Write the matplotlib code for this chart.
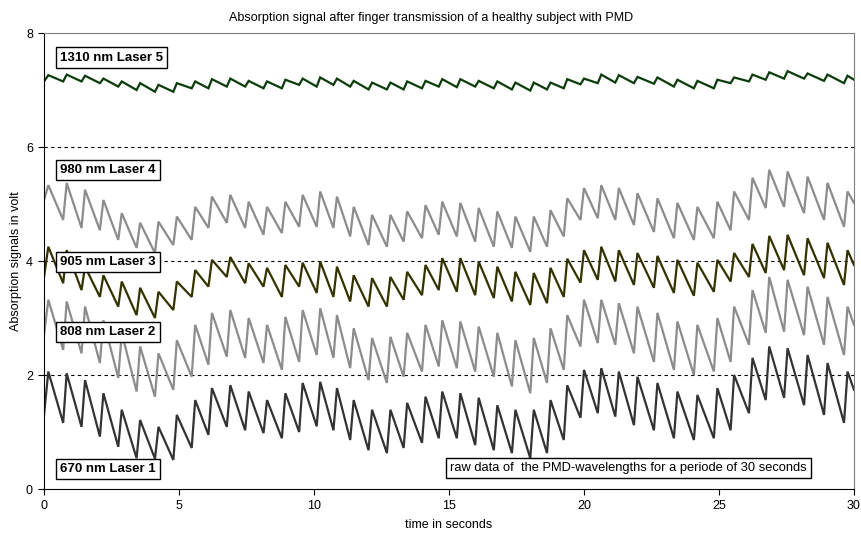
import matplotlib
matplotlib.use("Agg")
import matplotlib.pyplot as plt

plt.rcParams['font.family'] = ['Liberation Sans', 'DejaVu Sans']

# ---------------- data ----------------
beat_times = [0.16, 0.84, 1.52, 2.20, 2.88, 3.56, 4.24, 4.92, 5.60, 6.22,
              6.90, 7.58, 8.26, 8.94, 9.58, 10.23, 10.85, 11.47, 12.15, 12.83,
              13.45, 14.13, 14.75, 15.42, 16.10, 16.79, 17.46, 18.14, 18.76, 19.38,
              20.00, 20.64, 21.29, 21.98, 22.72, 23.46, 24.20, 24.94, 25.56, 26.24,
              26.86, 27.54, 28.28, 29.02, 29.76]

labels = ["1310 nm Laser 5", "980 nm Laser 4", "905 nm Laser 3",
          "808 nm Laser 2", "670 nm Laser 1"]

start_values = [7.15, 5.07, 3.72, 2.70, 1.30]
end_time = 30.0

laser5_peaks = [7.26, 7.27, 7.25, 7.20, 7.15, 7.12, 7.09, 7.12, 7.15, 7.19, 7.20, 7.16, 7.15, 7.18, 7.20,
                7.22, 7.20, 7.16, 7.13, 7.13, 7.15, 7.16, 7.19, 7.19, 7.16, 7.15, 7.13, 7.13, 7.13, 7.19,
                7.20, 7.27, 7.26, 7.23, 7.22, 7.18, 7.16, 7.18, 7.22, 7.27, 7.31, 7.33, 7.29, 7.27, 7.25]
laser5_troughs = [7.15, 7.15, 7.12, 7.06, 7.00, 6.97, 6.97, 7.03, 7.03, 7.06, 7.06, 7.03, 7.03, 7.09, 7.06,
                  7.09, 7.06, 7.01, 7.01, 7.01, 7.03, 7.06, 7.05, 7.06, 7.03, 7.01, 6.99, 7.01, 7.03, 7.10,
                  7.12, 7.13, 7.12, 7.11, 7.06, 7.03, 7.03, 7.12, 7.15, 7.18, 7.20, 7.20, 7.16, 7.12, 7.18]

laser4_peaks = [5.33, 5.37, 5.25, 5.07, 4.84, 4.67, 4.69, 4.78, 4.95, 5.13, 5.16, 5.04, 4.95, 5.04, 5.16,
                5.22, 5.13, 4.95, 4.81, 4.81, 4.87, 4.98, 5.04, 5.02, 4.93, 4.87, 4.78, 4.78, 4.89, 5.10,
                5.28, 5.33, 5.28, 5.19, 5.10, 5.02, 4.95, 5.04, 5.22, 5.46, 5.60, 5.57, 5.48, 5.37, 5.22]
laser4_troughs = [4.72, 4.58, 4.54, 4.37, 4.23, 4.14, 4.28, 4.37, 4.58, 4.67, 4.58, 4.46, 4.49, 4.60, 4.60,
                  4.58, 4.43, 4.28, 4.25, 4.34, 4.40, 4.46, 4.43, 4.34, 4.25, 4.23, 4.16, 4.25, 4.43, 4.72,
                  4.75, 4.72, 4.63, 4.51, 4.40, 4.37, 4.40, 4.54, 4.72, 4.93, 4.95, 4.84, 4.72, 4.60, 5.02]

laser3_peaks = [4.25, 4.19, 3.90, 3.75, 3.64, 3.53, 3.46, 3.64, 3.84, 4.02, 4.07, 3.96, 3.88, 3.93, 3.97,
                3.99, 3.90, 3.75, 3.70, 3.72, 3.81, 3.93, 4.05, 4.05, 3.99, 3.90, 3.81, 3.79, 3.88, 4.04,
                4.19, 4.25, 4.19, 4.14, 4.09, 4.02, 3.97, 4.02, 4.14, 4.30, 4.44, 4.46, 4.40, 4.32, 4.19]
laser3_troughs = [3.61, 3.49, 3.37, 3.20, 3.05, 3.00, 3.14, 3.37, 3.55, 3.72, 3.61, 3.55, 3.37, 3.55, 3.44,
                  3.37, 3.29, 3.20, 3.20, 3.32, 3.40, 3.49, 3.46, 3.40, 3.35, 3.29, 3.23, 3.26, 3.37, 3.62,
                  3.67, 3.64, 3.58, 3.53, 3.44, 3.39, 3.46, 3.64, 3.72, 3.79, 3.84, 3.75, 3.70, 3.58, 3.93]

laser2_peaks = [3.32, 3.29, 3.20, 2.96, 2.74, 2.50, 2.38, 2.61, 2.88, 3.09, 3.14, 3.00, 2.88, 3.02, 3.14,
                3.17, 3.05, 2.82, 2.65, 2.67, 2.74, 2.88, 2.96, 2.94, 2.85, 2.74, 2.61, 2.65, 2.82, 3.05,
                3.32, 3.32, 3.26, 3.20, 3.09, 2.94, 2.88, 3.00, 3.20, 3.49, 3.72, 3.67, 3.55, 3.37, 3.20]
laser2_troughs = [2.44, 2.38, 2.21, 1.95, 1.71, 1.62, 1.74, 1.97, 2.18, 2.32, 2.30, 2.21, 2.09, 2.23, 2.35,
                  2.30, 2.12, 1.91, 1.86, 1.97, 2.06, 2.15, 2.12, 2.06, 1.97, 1.80, 1.68, 1.86, 2.09, 2.50,
                  2.56, 2.53, 2.38, 2.23, 2.09, 2.00, 2.06, 2.23, 2.53, 2.74, 2.76, 2.70, 2.53, 2.35, 2.88]

laser1_peaks = [2.06, 2.03, 1.91, 1.68, 1.39, 1.21, 1.09, 1.30, 1.56, 1.77, 1.82, 1.71, 1.56, 1.68, 1.86,
                1.88, 1.77, 1.56, 1.39, 1.39, 1.51, 1.62, 1.71, 1.68, 1.60, 1.47, 1.39, 1.39, 1.56, 1.82,
                2.09, 2.12, 2.06, 1.97, 1.86, 1.71, 1.65, 1.77, 2.00, 2.30, 2.50, 2.47, 2.35, 2.21, 2.06]
laser1_troughs = [1.16, 1.09, 0.92, 0.74, 0.54, 0.53, 0.51, 0.72, 0.95, 1.09, 1.03, 0.98, 0.89, 1.00, 1.10,
                  1.03, 0.86, 0.68, 0.63, 0.72, 0.81, 0.89, 0.89, 0.77, 0.68, 0.63, 0.54, 0.63, 0.86, 1.25,
                  1.33, 1.27, 1.12, 1.03, 0.89, 0.86, 0.89, 1.03, 1.33, 1.56, 1.60, 1.47, 1.30, 1.16, 1.74]

all_peaks = [laser5_peaks, laser4_peaks, laser3_peaks, laser2_peaks, laser1_peaks]
all_troughs = [laser5_troughs, laser4_troughs, laser3_troughs, laser2_troughs, laser1_troughs]
label_y = [7.57, 5.60, 3.98, 2.75, 0.35]

# ---------------- style ----------------
colors = ["#0a3d0a", "#8c8c8c", "#333300", "#8c8c8c", "#333333"]
rise = 0.13  # seconds from trough to systolic peak


def build_trace(start, peaks, troughs):
    xs, ys = [0.0], [start]
    n = len(beat_times)
    for i in range(n):
        xs.append(beat_times[i]); ys.append(peaks[i])
        nxt = beat_times[i + 1] - rise if i < n - 1 else end_time
        xs.append(nxt); ys.append(troughs[i])
    return xs, ys


fig = plt.figure(figsize=(8.62, 5.35), dpi=100)
ax = fig.add_axes([44 / 862, 46 / 535, 810 / 862, 456 / 535])

for start, pk, tr, c in zip(start_values, all_peaks, all_troughs, colors):
    xs, ys = build_trace(start, pk, tr)
    ax.plot(xs, ys, color=c, lw=1.6, solid_joinstyle='miter')

for yv in [2, 4, 6]:
    ax.axhline(yv, color='black', lw=0.8, ls=(0, (3, 3)), zorder=0.5)

ax.set_xlim(0, 30)
ax.set_ylim(0, 8)
ax.set_xticks(range(0, 31, 5))
ax.set_yticks(range(0, 9, 2))
ax.tick_params(axis='both', labelsize=9, length=4, width=0.8, direction='out', pad=4)
for s in ['top', 'right']:
    ax.spines[s].set_color('#808080')
    ax.spines[s].set_linewidth(0.8)
for s in ['left', 'bottom']:
    ax.spines[s].set_color('black')
    ax.spines[s].set_linewidth(0.8)

fig.text(431 / 862, 1 - 18 / 535,
         "Absorption signal after finger transmission of a healthy subject with PMD",
         fontsize=9, ha='center', va='center')
ax.set_xlabel("time in seconds", fontsize=9, labelpad=5)
ax.set_ylabel("Absorption signals in volt", fontsize=9, labelpad=3)

for lab, yv in zip(labels, label_y):
    ax.text(0.60, yv, lab, fontsize=9.5, fontweight='bold', ha='left', va='center',
            bbox=dict(boxstyle='square,pad=0.32', fc='white', ec='black', lw=1.0), zorder=5)

ax.text(15.05, 0.37, "raw data of  the PMD-wavelengths for a periode of 30 seconds",
        fontsize=9.3, ha='left', va='center',
        bbox=dict(boxstyle='square,pad=0.34', fc='white', ec='black', lw=1.0), zorder=5)

fig.savefig("out.png", dpi=100)
